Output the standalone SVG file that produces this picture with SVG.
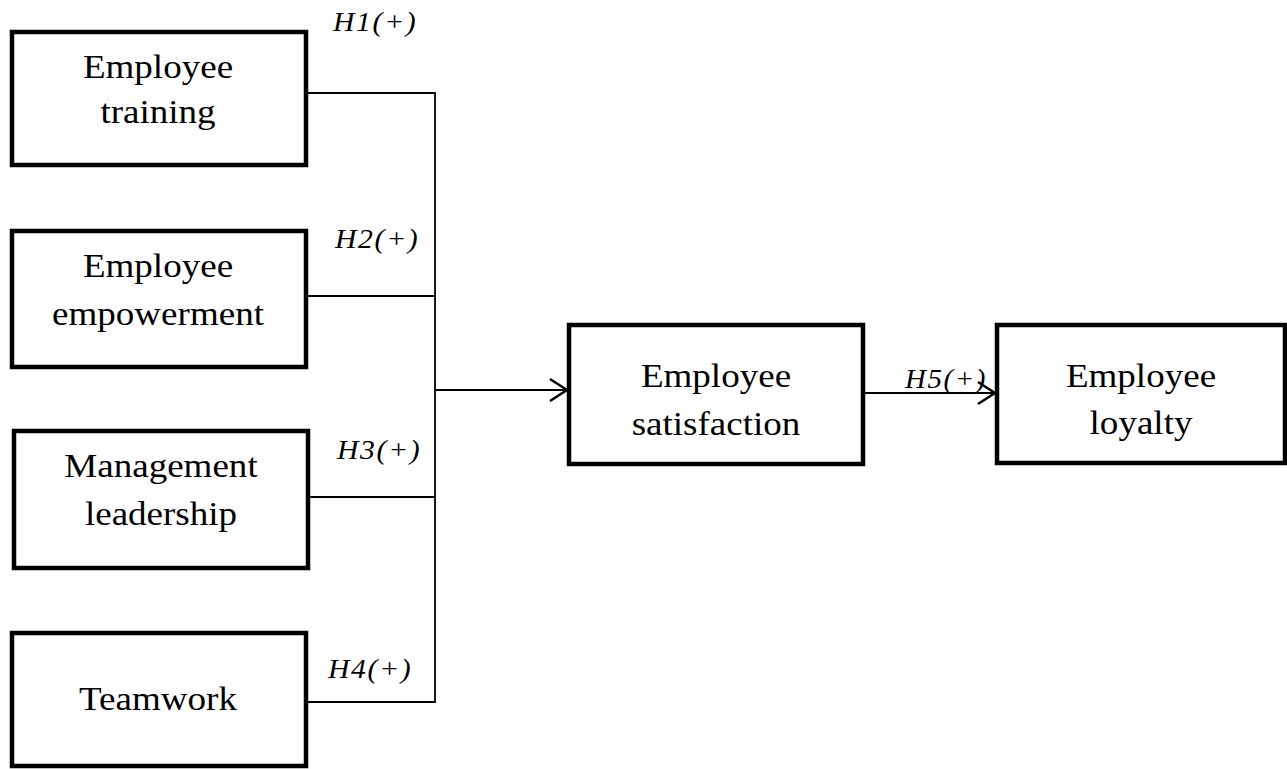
<svg xmlns="http://www.w3.org/2000/svg" width="1287" height="769" viewBox="0 0 1287 769">
<style>
.box{fill:#fff;stroke:#000;stroke-width:4.5}
.lbl{font-family:"Liberation Serif","Times New Roman",serif;font-size:34px;fill:#000;text-anchor:middle}
.hyp{font-family:"Liberation Serif","Times New Roman",serif;font-size:27px;font-style:italic;fill:#000;letter-spacing:1.5px}
.con{fill:none;stroke:#000;stroke-width:1.8}
</style>
<defs>
<marker id="arr" markerUnits="userSpaceOnUse" markerWidth="24" markerHeight="30" viewBox="-20 -14 24 28" refX="0" refY="0" orient="auto">
<path d="M -17 -11 L 0 0 L -17 11" fill="none" stroke="#000" stroke-width="2.5"/>
</marker>
</defs>
<rect width="1287" height="769" fill="#fff"/>
<g id="connectors">
<path class="con" d="M308 93 H435 V702 H308"/>
<path class="con" d="M308 296 H435"/>
<path class="con" d="M310 497 H435"/>
<path class="con" d="M435 390 H567" marker-end="url(#arr)"/>
<path class="con" d="M865 393 H995" marker-end="url(#arr)"/>
<text class="hyp" transform="translate(333,31) scale(1.1,1)">H1(+)</text>
<text class="hyp" transform="translate(335,248) scale(1.1,1)">H2(+)</text>
<text class="hyp" transform="translate(337,459) scale(1.1,1)">H3(+)</text>
<text class="hyp" transform="translate(328,678) scale(1.1,1)">H4(+)</text>
<text class="hyp" transform="translate(905,388) scale(1.07,1)">H5(+)</text>
</g>
<g id="training">
<rect class="box" x="12" y="32" width="294" height="133"/>
<text class="lbl" transform="translate(158,78) scale(1.09,1)">Employee</text>
<text class="lbl" transform="translate(158,123) scale(1.09,1)">training</text>
</g>
<g id="empowerment">
<rect class="box" x="12" y="231" width="294" height="136"/>
<text class="lbl" transform="translate(158,277) scale(1.09,1)">Employee</text>
<text class="lbl" transform="translate(158,325) scale(1.09,1)">empowerment</text>
</g>
<g id="leadership">
<rect class="box" x="14" y="431" width="294" height="137"/>
<text class="lbl" transform="translate(161,477) scale(1.09,1)">Management</text>
<text class="lbl" transform="translate(161,525) scale(1.09,1)">leadership</text>
</g>
<g id="teamwork">
<rect class="box" x="12" y="633" width="294" height="133"/>
<text class="lbl" transform="translate(158,710) scale(1.09,1)">Teamwork</text>
</g>
<g id="satisfaction">
<rect class="box" x="569" y="325" width="294" height="139"/>
<text class="lbl" transform="translate(716,387) scale(1.09,1)">Employee</text>
<text class="lbl" transform="translate(716,435) scale(1.09,1)">satisfaction</text>
</g>
<g id="loyalty">
<rect class="box" x="997" y="325" width="288" height="138"/>
<text class="lbl" transform="translate(1141,387) scale(1.09,1)">Employee</text>
<text class="lbl" transform="translate(1141,434) scale(1.09,1)">loyalty</text>
</g>
</svg>
